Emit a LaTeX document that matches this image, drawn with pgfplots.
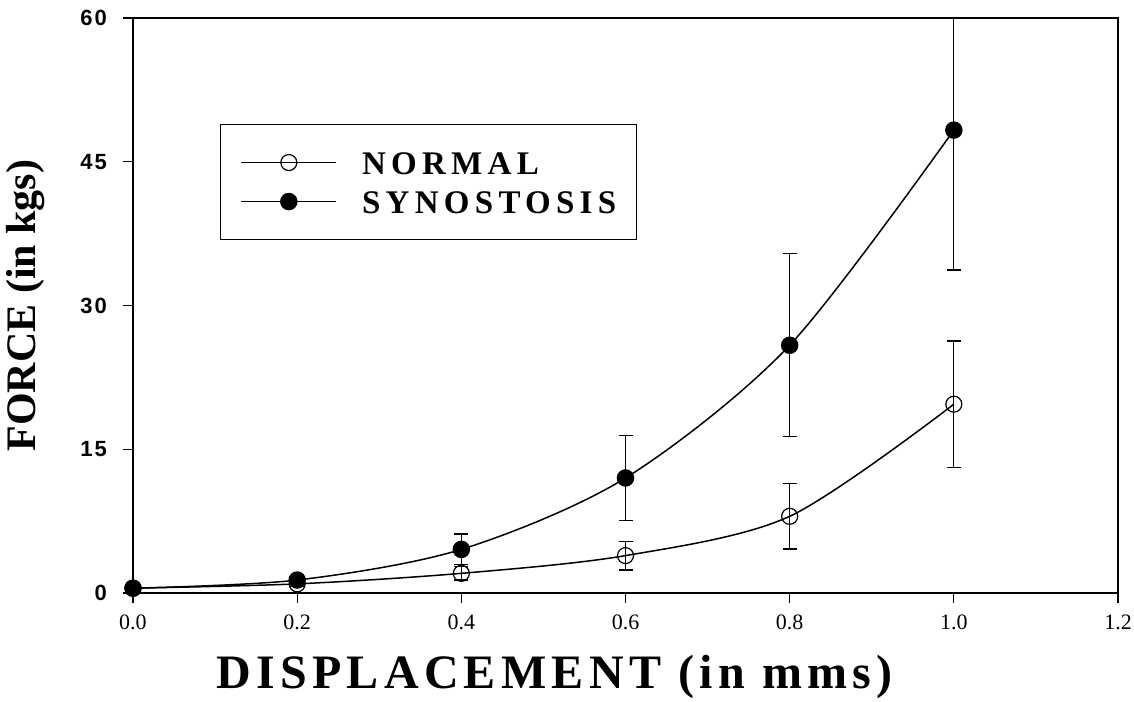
\documentclass[border=0pt]{standalone}
\usepackage{pgfplots}
\pgfplotsset{compat=1.18}
\usepackage{pgfplotstable}
\usepackage{fontspec}
\setmainfont{Liberation Serif}
\newfontfamily\tickfont{Liberation Sans}[LetterSpace=10]
\newfontfamily\legfont{Liberation Serif}[LetterSpace=16]
\newfontfamily\xlabfont{Liberation Serif}[LetterSpace=11]

\pgfplotstableread{
x y e
0.0 0.5 0
0.2 0.95 0.3
0.4 2.05 0.7
0.6 3.9 1.5
0.8 8.0 3.4
1.0 19.7 6.6
}\normaldata
\pgfplotstableread{
x y e
0.0 0.5 0
0.2 1.35 0.4
0.4 4.55 1.6
0.6 12.0 4.4
0.8 25.85 9.55
1.0 48.3 14.6
}\synodata

\begin{document}
\begin{tikzpicture}
\begin{axis}[
  scale only axis,
  width=492.5pt, height=287.5pt,
  xmin=0, xmax=1.2, ymin=0, ymax=60,
  xtick={0,0.2,...,1.2},
  ytick={0,15,30,45,60},
  xtick pos=bottom, ytick pos=left,
  axis line style={line width=0.6pt},
  tick align=outside,
  major tick length=5pt,
  tick style={line width=0.6pt, black},
  /pgf/number format/assume math mode=true,
  xticklabel style={font=\fontsize{11}{12}\selectfont, /pgf/number format/fixed, /pgf/number format/fixed zerofill, /pgf/number format/precision=1, yshift=-2.5pt},
  yticklabel style={font=\tickfont\bfseries\fontsize{11}{12}\selectfont, xshift=-4.5pt},
  xlabel={\xlabfont\bfseries DISPLACEMENT (in mms)},
  ylabel={\bfseries FORCE (in kgs)},
  xlabel style={font=\fontsize{24}{26}\selectfont, at={(axis description cs:0.428,-0.146)}, anchor=center},
  ylabel style={font=\fontsize{21}{23}\selectfont, at={(axis description cs:-0.1086,0.50)}, anchor=center},
  clip=true,
  legend style={at={(axis description cs:0.0883,0.8157)}, anchor=north west,
    draw=black, line width=0.6pt, inner xsep=10pt, inner ysep=13pt,
    font=\legfont\bfseries\fontsize{16.5}{18}\selectfont,
    row sep=7.5pt,
    nodes={inner sep=0pt, text height=12pt, text depth=0pt}},
  legend cell align=left,
  /tikz/every odd column/.append style={column sep=12.5pt},
  legend image code/.code={\draw[#1, mark repeat=2, mark phase=2, yshift=0pt] plot coordinates {(0pt,0pt)(23.75pt,0pt)(47.5pt,0pt)};},
]
\addplot+[black, line width=0.75pt, smooth, mark=o, mark size=4pt, mark options={solid, line width=0.6pt},
  error bars/.cd, y dir=both, y explicit, error bar style={line width=0.6pt, black},
  error mark options={rotate=90, mark size=3.5pt, line width=0.6pt, black}]
  table[x=x, y=y, y error=e] {\normaldata};
\addlegendentry{NORMAL}
\addplot+[black, line width=0.75pt, smooth, mark=*, mark size=4pt, mark options={solid, fill=black},
  error bars/.cd, y dir=both, y explicit, error bar style={line width=0.6pt, black},
  error mark options={rotate=90, mark size=3.5pt, line width=0.6pt, black}]
  table[x=x, y=y, y error=e] {\synodata};
\addlegendentry{SYNOSTOSIS}
\end{axis}
\pgfresetboundingbox
\path[use as bounding box] ([shift={(-66.5pt,-54.5pt)}]current axis.south west) rectangle ([shift={(8pt,9pt)}]current axis.north east);
\end{tikzpicture}
\end{document}
